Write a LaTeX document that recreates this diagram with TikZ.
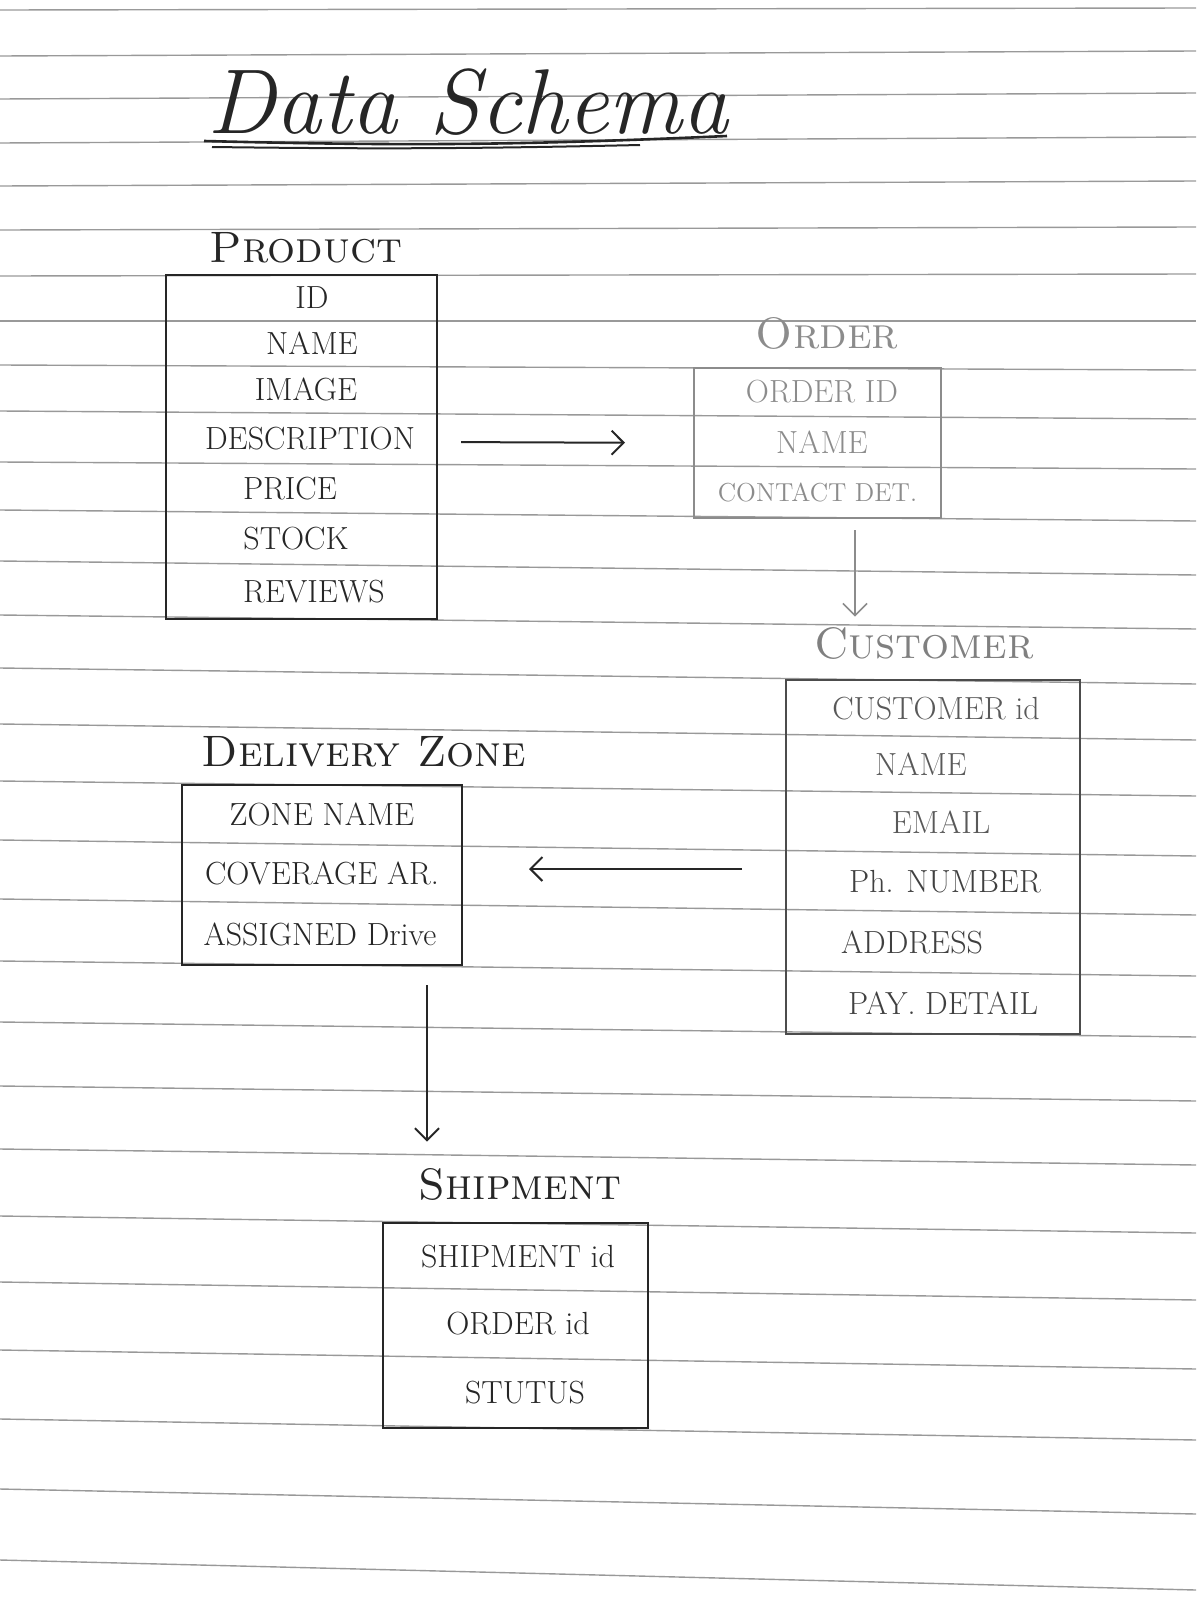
\documentclass[tikz,border=0pt]{standalone}
\usetikzlibrary{er,positioning,arrows.meta}

\colorlet{ink}{black!85}
\colorlet{pencil}{black!45}
\colorlet{paper}{black!40}

\begin{document}
\begin{tikzpicture}[
    x=0.5pt, y=-0.5pt,
    font=\fontsize{16}{18}\selectfont,
    text centered,
    every entity/.style={
      draw=ink,
      line width=1.1pt,
      outer sep=0,
      inner sep=0
    },
    fieldtext/.style={text=ink, inner sep=1pt},
    tabletitle/.style={text=ink, font=\fontsize{22}{24}\selectfont, inner sep=1pt},
    paperline/.style={draw=paper, line width=0.7pt},
    link/.style={draw=ink, line width=1pt, -{Straight Barb[length=6pt,width=12pt]}}
  ]

  \useasboundingbox (0,0) rectangle (1196,1600);

  % ruled paper
  \foreach \yl/\yr in {10/8,56/51,99/93,143/137,186/181,230/227,276/274,321/321,365/370,
      411/419,462/469,510/521,561/575,615/629,668/684,724/740,781/796,840/856,899/915,
      961/976,1022/1037,1086/1101,1149/1165,1216/1233,1282/1300,1350/1369,1419/1440,
      1489/1514,1560/1590}
    \draw [paperline] (0,\yl) -- (1196,\yr);

  % heading
  \node (heading) at (468,102) [text=ink, font=\fontsize{46}{50}\itshape] {Data Schema};
  \draw [ink, line width=1.3pt] (204,141) to[bend right=2] (727,136);
  \draw [ink, line width=1pt] (212,147) to[bend right=1] (640,145);

  % product
  \node [tabletitle] (tproduct) at (306,248) {\textsc{Product}};
  \node [entity] (product) at (301.5,447) [minimum width=135.5pt, minimum height=172pt] {};
  \node [fieldtext] (p1) at (312,298) {ID};
  \node [fieldtext] (p2) at (312,343.5) {NAME};
  \node [fieldtext] (p3) at (306,389.5) {IMAGE};
  \node [fieldtext] (p4) at (310,438.5) {DESCRIPTION};
  \node [fieldtext] (p5) at (290,488.5) {PRICE};
  \node [fieldtext] (p6) at (296,539) {STOCK};
  \node [fieldtext] (p7) at (314,591.5) {REVIEWS};

  % order
  \node [tabletitle, text=pencil] (torder) at (827,333) {\textsc{Order}};
  \node [entity, draw=pencil] (order) at (817.5,443) [minimum width=123.5pt, minimum height=75pt] {};
  \node [fieldtext, text=pencil] (o1) at (822,392) {ORDER ID};
  \node [fieldtext, text=pencil] (o2) at (822,442) {NAME};
  \node [fieldtext, text=pencil, font=\fontsize{13}{15}\selectfont] (o3) at (817.5,492) {CONTACT DET.};

  % customer
  \node [tabletitle, text=black!50] (tcustomer) at (924,643) {\textsc{Customer}};
  \node [entity, draw=black!70] (customer) at (933,857) [minimum width=147pt, minimum height=177pt] {};
  \node [fieldtext, text=black!65] (c1) at (936,708.5) {CUSTOMER id};
  \node [fieldtext, text=black!65] (c2) at (921,764.6) {NAME};
  \node [fieldtext, text=black!65] (c3) at (941,822.6) {EMAIL};
  \node [fieldtext, text=black!75] (c4) at (945,882) {Ph. NUMBER};
  \node [fieldtext, text=black!75] (c5) at (912,942) {ADDRESS};
  \node [fieldtext, text=black!75] (c6) at (943,1003) {PAY. DETAIL};

  % delivery zone
  \node [tabletitle] (tzone) at (364,752) {\textsc{Delivery Zone}};
  \node [entity] (zone) at (322,875) [minimum width=140pt, minimum height=90pt] {};
  \node [fieldtext] (z1) at (322,814.6) {ZONE NAME};
  \node [fieldtext] (z2) at (322,873.8) {COVERAGE AR.};
  \node [fieldtext] (z3) at (320,934) {ASSIGNED Drive};

  % shipment
  \node [tabletitle] (tshipment) at (520,1184) {\textsc{Shipment}};
  \node [entity] (shipment) at (515.5,1325.5) [minimum width=132.5pt, minimum height=102.5pt] {};
  \node [fieldtext] (s1) at (518,1256.5) {SHIPMENT id};
  \node [fieldtext] (s2) at (518,1324) {ORDER id};
  \node [fieldtext] (s3) at (525,1393) {STUTUS};

  % links
  \draw [link, shorten <=12pt, shorten >=34.5pt] ([yshift=2.5pt]product.east) -- (order.west);
  \draw [link, draw=pencil, line width=0.8pt, shorten <=6pt, shorten >=4pt]
    ([xshift=18.75pt]order.south) -- ([xshift=18.75pt]order.south |- tcustomer.north);
  \draw [link, shorten <=22pt, shorten >=33.5pt] ([yshift=-6pt]customer.west) -- ([yshift=3pt]zone.east);
  \draw [link, shorten <=10pt, shorten >=12pt]
    ([xshift=52.5pt]zone.south) -- ([xshift=52.5pt]zone.south |- tshipment.north);

\end{tikzpicture}
\end{document}
